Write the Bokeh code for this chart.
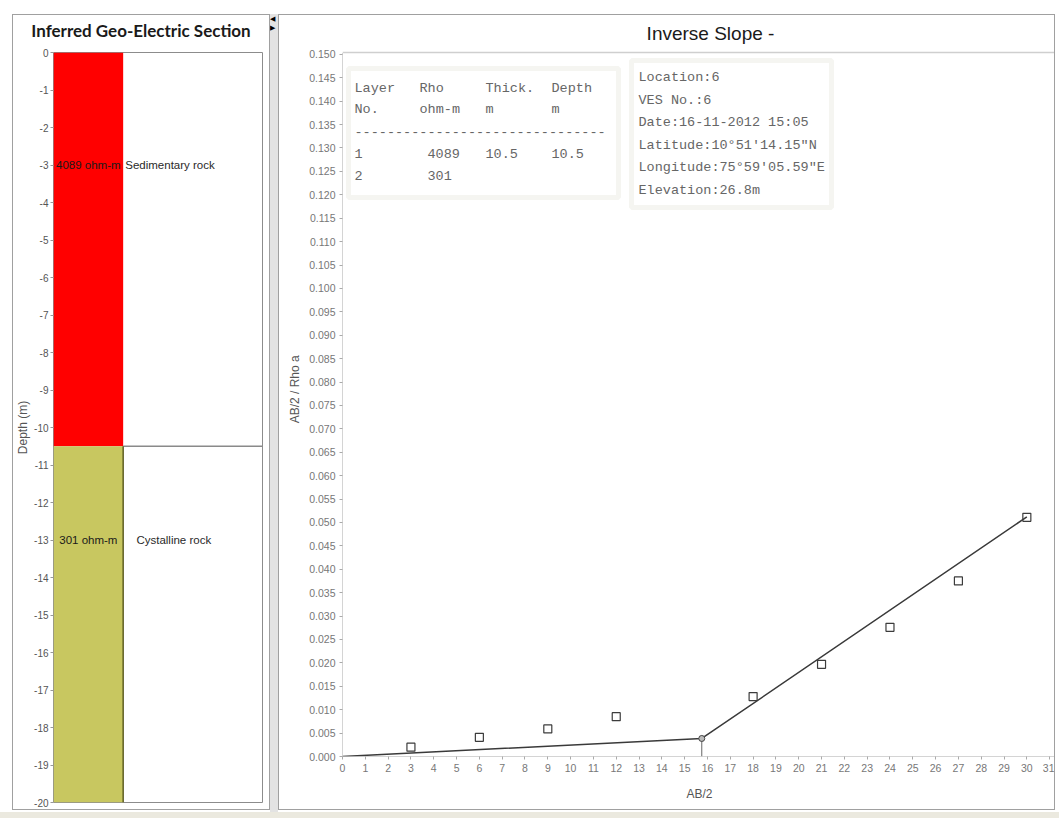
from bokeh.plotting import figure
from bokeh.models import Range1d, FixedTicker, NumeralTickFormatter, BoxAnnotation, Div
from bokeh.layouts import row, column
from bokeh.core.properties import value
from bokeh.embed import file_html
from bokeh.resources import INLINE

SANS = "'Liberation Sans', Arial, sans-serif"
TITLE_FONT = "Lato, 'Liberation Sans', sans-serif"
MONO = "'Liberation Mono', 'Courier New', monospace"

# ---------------- layer model (VES 6) ----------------
layer_no = [1, 2]
layer_rho = [4089, 301]                 # ohm-m
layer_top = [0.0, 10.5]                 # m
layer_bottom = [10.5, 20.0]             # m (second layer runs to the bottom of the section)
layer_rock = ["Sedimentary rock", "Cystalline rock"]
layer_label_depth = [3.0, 13.0]
depth_ticks = [0, -1, -2, -3, -4, -5, -6, -7, -8, -9, -10,
               -11, -12, -13, -14, -15, -16, -17, -18, -19, -20]

# ---------------- inverse slope data ----------------
ab2 = [3, 6, 9, 12, 18, 21, 24, 27, 30]
ab2_over_rho = [0.0020, 0.0041, 0.0059, 0.0085, 0.0128, 0.0197, 0.0276, 0.0375, 0.0511]
fit_ab2 = [0.0, 15.75, 30.0]
fit_value = [0.0, 0.00385, 0.0512]
slope_ticks = [0.000, 0.005, 0.010, 0.015, 0.020, 0.025, 0.030, 0.035, 0.040, 0.045,
               0.050, 0.055, 0.060, 0.065, 0.070, 0.075, 0.080, 0.085, 0.090, 0.095,
               0.100, 0.105, 0.110, 0.115, 0.120, 0.125, 0.130, 0.135, 0.140, 0.145, 0.150]
ab2_ticks = [0, 1, 2, 3, 4, 5, 6, 7, 8, 9, 10, 11, 12, 13, 14, 15,
             16, 17, 18, 19, 20, 21, 22, 23, 24, 25, 26, 27, 28, 29, 30, 31]

site_info = ["Location:6", "VES No.:6", "Date:16-11-2012 15:05",
             "Latitude:10\u00b051'14.15\"N", "Longitude:75\u00b059'05.59\"E",
             "Elevation:26.8m"]

layer_colors = ["#ff0000", "#c8c760"]

BORDER = "1px solid #a0a0a0"
CANVAS_TOP = 15          # page y of the first canvas row (below the panel border)

# ======================= geo-electric section =======================
section_title = Div(width=258, height=32, margin=0, text="Inferred Geo-Electric Section",
                    styles={"border": BORDER, "border-bottom": "none",
                            "font-family": TITLE_FONT, "font-size": "17px",
                            "font-weight": "bold", "color": "#1a1a1a",
                            "text-align": "center", "line-height": "32px",
                            "background-color": "white", "overflow": "hidden"})

L_X_END, L_DEPTH = 3.0, 20.0
left = figure(width=258, height=764, x_range=Range1d(0, L_X_END),
              y_range=Range1d(-L_DEPTH, 0),
              output_backend="svg", toolbar_location=None,
              min_border_left=40, min_border_right=9, min_border_top=6, min_border_bottom=8,
              background_fill_color="white", border_fill_color="white",
              outline_line_color="#8c8c8c",
              styles={"border": BORDER, "border-top": "none"})

left.quad(left=0, right=1,
          top=[-t for t in layer_top], bottom=[-b for b in layer_bottom],
          fill_color=layer_colors, line_color=None)
# layer boundary and the edge of the lower column
left.segment(x0=[1], x1=[L_X_END], y0=[-layer_bottom[0]], y1=[-layer_bottom[0]],
             line_color="#8a8a8a", line_width=1.5)
left.segment(x0=[1], x1=[1], y0=[-layer_top[1]], y1=[-layer_bottom[1]],
             line_color="#5e5e22", line_width=1.5)

left.text(x=[0.5, 0.5], y=[-d for d in layer_label_depth],
          text=[f"{r} ohm-m" for r in layer_rho],
          text_font=value(SANS), text_font_size="11.5px", text_color="#1a1a1a",
          text_align="center", text_baseline="middle")
left.text(x=[1.03, 1.19], y=[-d for d in layer_label_depth], text=layer_rock,
          text_font=value(SANS), text_font_size="11.5px", text_color="#2a2a2a",
          text_align="left", text_baseline="middle")

left.xaxis.visible = False
left.grid.visible = False
left.yaxis.ticker = FixedTicker(ticks=depth_ticks)
left.yaxis.major_label_overrides = {t: str(t) for t in depth_ticks}
left.yaxis.axis_label = "Depth (m)"
left.yaxis.axis_label_text_font = SANS
left.yaxis.axis_label_text_font_size = "12px"
left.yaxis.axis_label_text_font_style = "normal"
left.yaxis.axis_label_text_color = "#555555"
left.yaxis.axis_label_standoff = 1
left.yaxis.major_label_text_font = SANS
left.yaxis.major_label_text_font_size = "10px"
left.yaxis.major_label_text_color = "#555555"
left.yaxis.major_label_standoff = 2
left.yaxis.axis_line_color = None
left.yaxis.major_tick_out = 3
left.yaxis.major_tick_in = 0
left.yaxis.major_tick_line_color = "#999999"
left.yaxis.minor_tick_line_color = None

# ======================= inverse slope plot =======================
# plot area in page pixels: AB/2 = 0 at x 344, right edge 1058; 0.150 at y ~54, 0 at y 756
FRAME_L, FRAME_R, FRAME_T, FRAME_B = 344, 1058, 52, 756
X_END, Y_AT_T = 31.3, 0.1504
PX_PER_UNIT = (FRAME_B - FRAME_T) / Y_AT_T
Y_TOP = (FRAME_B - CANVAS_TOP) / PX_PER_UNIT      # room above the plot for the heading


def at_x(px):
    return (px - FRAME_L) * X_END / (FRAME_R - FRAME_L)


def at_y(py):
    return (FRAME_B - py) / PX_PER_UNIT


right = figure(width=777, height=796, x_range=Range1d(0, X_END), y_range=Range1d(0, Y_TOP),
               output_backend="svg", toolbar_location=None,
               min_border_left=63, min_border_right=0, min_border_top=0, min_border_bottom=55,
               background_fill_color="white", border_fill_color="white",
               outline_line_color=None, styles={"border": BORDER})
right.grid.visible = False

right.text(x=[at_x(712)], y=[at_y(33)], text=["Inverse Slope -"],
           text_font=value(SANS), text_font_size="19px", text_color="#1a1a1a",
           text_align="center", text_baseline="middle")
# upper edge of the plot area
right.segment(x0=[0], x1=[X_END], y0=[Y_AT_T], y1=[Y_AT_T], line_color="#cfcfcf",
              line_width=1.5)

box_style = dict(fill_color="white", fill_alpha=1.0, line_color="#dfdfd2", line_width=5,
                 level="underlay")
right.add_layout(BoxAnnotation(left=at_x(350), right=at_x(620), top=at_y(68), bottom=at_y(197),
                               **box_style))
right.add_layout(BoxAnnotation(left=at_x(633), right=at_x(833), top=at_y(60), bottom=at_y(207),
                               **box_style))

# layer table
col_px = [356, 421, 487, 553]
thick = layer_bottom[0] - layer_top[0]
table_cells = [
    (88, ["Layer", "Rho", "Thick.", "Depth"], col_px),
    (109, ["No.", "ohm-m", "m", "m"], col_px),
    (131, ["-" * 31], [356]),
    (153, [str(layer_no[0]), str(layer_rho[0]), f"{thick:.1f}", f"{layer_bottom[0]:.1f}"],
     [356, 429, 487, 553]),
    (175, [str(layer_no[1]), str(layer_rho[1])], [356, 429]),
]
tx, ty, tt = [], [], []
for py, texts, xs in table_cells:
    for s, px in zip(texts, xs):
        tx.append(at_x(px))
        ty.append(at_y(py))
        tt.append(s)
# site information
for i, s in enumerate(site_info):
    tx.append(at_x(640))
    ty.append(at_y(77 + 22.6 * i))
    tt.append(s)
right.text(x=tx, y=ty, text=tt, text_font=value(MONO), text_font_size="13.5px",
           text_color="#666666", text_align="left", text_baseline="middle")

# two-segment fit and the break point
right.line(fit_ab2, fit_value, line_color="#3a3a3a", line_width=1.5)
right.segment(x0=[fit_ab2[1]], x1=[fit_ab2[1]], y0=[0], y1=[fit_value[1]],
              line_color="#666666", line_width=1)
right.scatter([fit_ab2[1]], [fit_value[1]], marker="circle", size=6,
              fill_color="#bbbbbb", line_color="#444444", line_width=1)
right.scatter(ab2, ab2_over_rho, marker="square", size=8, fill_color=None,
              line_color="#3c3c3c", line_width=1.2)

for ax in (right.xaxis, right.yaxis):
    ax.axis_line_color = "#a8a8a8"
    ax.axis_line_dash = "1 1"
    ax.major_tick_out = 3
    ax.major_tick_in = 0
    ax.major_tick_line_color = "#aaaaaa"
    ax.minor_tick_line_color = None
    ax.major_label_text_font = SANS
    ax.major_label_text_font_size = "10.5px"
    ax.major_label_text_color = "#777777"
    ax.major_label_standoff = 4
    ax.axis_label_text_font = SANS
    ax.axis_label_text_font_size = "12px"
    ax.axis_label_text_font_style = "normal"
    ax.axis_label_text_color = "#555555"

right.yaxis.ticker = FixedTicker(ticks=slope_ticks)
right.yaxis.formatter = NumeralTickFormatter(format="0.000")
right.yaxis.bounds = (0, Y_AT_T)
right.yaxis.axis_label = "AB/2  /  Rho a"
right.yaxis.axis_label_standoff = 4
right.xaxis.ticker = FixedTicker(ticks=ab2_ticks)
right.xaxis.axis_label = "AB/2"
right.xaxis.axis_label_standoff = 12

# ======================= page layout =======================
gap = Div(width=8, height=798, margin=0, text="\u25c0<br>\u25b6",
          styles={"background-color": "#e3e3e3", "font-size": "7px", "line-height": "9px",
                  "color": "#000000", "overflow": "hidden"})
top_pad = Div(width=1059, height=14, margin=0)
left_pad = Div(width=12, height=798, margin=0)
bottom_pad = Div(width=1059, height=6, margin=0, styles={"background-color": "#ebe9df"})

root = column(top_pad, row(left_pad, column(section_title, left), gap, right), bottom_pad)

open("out.html", "w").write(file_html(root, INLINE))
